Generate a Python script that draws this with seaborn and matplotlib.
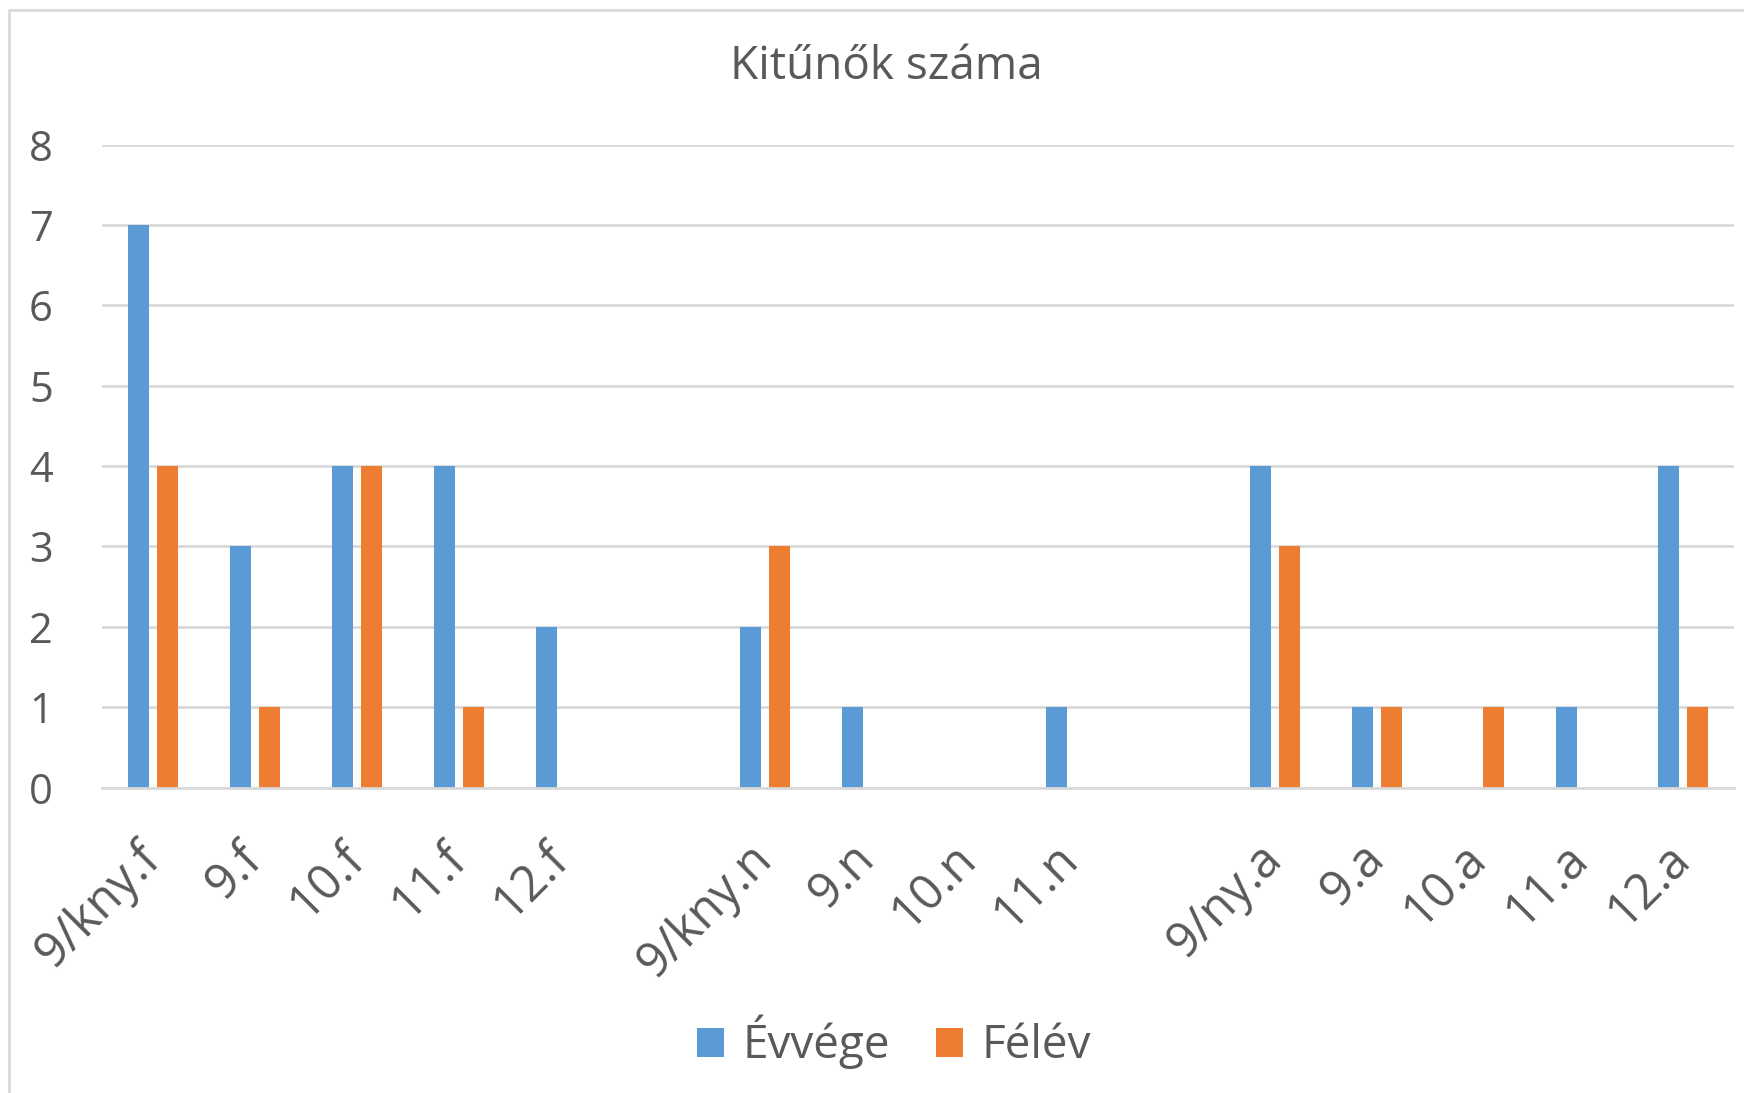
import matplotlib
matplotlib.use("Agg")
import matplotlib.pyplot as plt
import seaborn as sns
import pandas as pd
from matplotlib.lines import Line2D
from matplotlib.patches import Patch

categories = ["9/kny.f", "9.f", "10.f", "11.f", "12.f", "",
              "9/kny.n", "9.n", "10.n", "11.n", "",
              "9/ny.a", "9.a", "10.a", "11.a", "12.a"]
evvege = [7, 3, 4, 4, 2, 0, 2, 1, 0, 1, 0, 4, 1, 0, 1, 4]
felev = [4, 1, 4, 1, 0, 0, 3, 0, 0, 0, 0, 3, 1, 1, 0, 1]
series_names = ["Évvége", "Félév"]
colors = ["#5B9BD5", "#ED7D31"]
title = "Kitűnők száma"

sns.set_theme(style="white")
plt.rcParams['font.family'] = ['Open Sans', 'DejaVu Sans']

keys = [f"k{i}" for i in range(len(categories))]
df = pd.DataFrame({
    "slot": keys * 2,
    "value": evvege + felev,
    "series": [series_names[0]] * len(keys) + [series_names[1]] * len(keys),
})

W, H = 1744, 1093
fig = plt.figure(figsize=(W / 100, H / 100), dpi=100)
ax = fig.add_axes([102 / W, 1 - 787.5 / H, (1734 - 102) / W, (787.5 - 144.6) / H])

sns.barplot(data=df, x="slot", y="value", hue="series", order=keys,
            hue_order=series_names, palette=colors, width=0.56, gap=0.25,
            linewidth=0, saturation=1, ax=ax, legend=False)

ax.set_xlim(-0.5, len(keys) - 0.5)
ax.set_ylim(0, 8)
ax.set_yticks(range(0, 9))
ax.yaxis.grid(True, color="#D9D9D9", linewidth=2)
ax.set_axisbelow(True)
for s in ["top", "right", "left"]:
    ax.spines[s].set_visible(False)
ax.spines["bottom"].set_color("#D9D9D9")
ax.spines["bottom"].set_linewidth(2)
ax.set_xlabel("")
ax.set_ylabel("")
ax.tick_params(axis="y", length=0, pad=44, labelsize=30, labelcolor="#595959")
ax.tick_params(axis="x", length=0, pad=46, labelsize=35, labelcolor="#595959")
ax.set_xticks(range(len(keys)))
ax.set_xticklabels(categories, rotation=45, ha="right", va="center", rotation_mode="anchor")
for lbl in ax.get_yticklabels():
    lbl.set_horizontalalignment("center")

fig.text(0.5 + 14 / W, 1 - 67 / H, title, ha="center", va="center", fontsize=33, color="#595959")

handles = [Patch(facecolor=c, edgecolor="none") for c in colors]
fig.legend(handles, series_names, loc="center", bbox_to_anchor=(0.5 + 22 / W, 1 - 1042 / H),
           ncol=2, frameon=False, fontsize=33, labelcolor="#595959",
           handlelength=0.6, handleheight=0.6, handletextpad=0.4, columnspacing=1.0)

# chart frame
fig.add_artist(Line2D([8.5 / W, 8.5 / W], [0, 1 - 10 / H], transform=fig.transFigure,
                      color="#D9D9D9", linewidth=2))
fig.add_artist(Line2D([8.5 / W, 1], [1 - 10 / H, 1 - 10 / H], transform=fig.transFigure,
                      color="#D9D9D9", linewidth=2))

fig.savefig("out.png", dpi=100)
